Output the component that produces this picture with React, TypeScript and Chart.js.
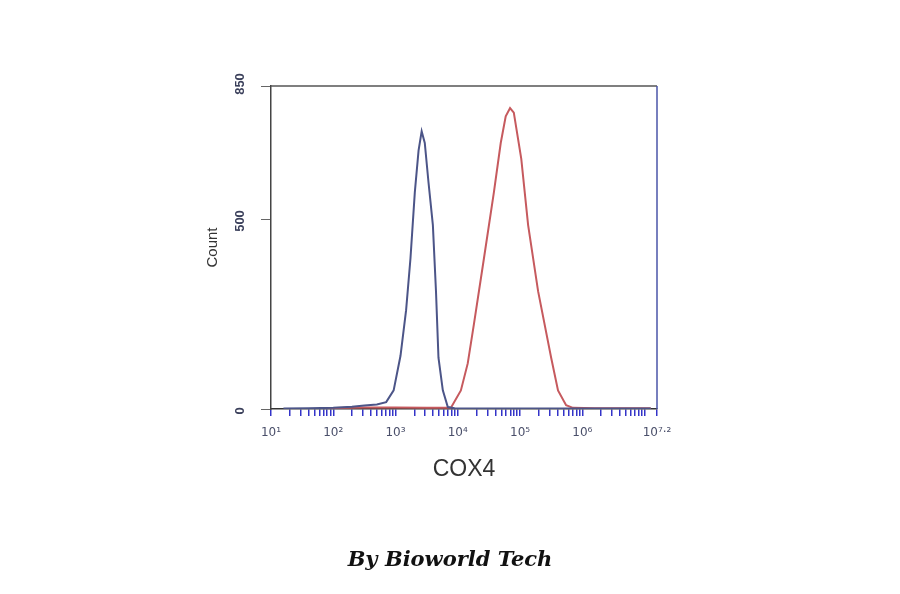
import React, { useEffect, useRef } from "react";
import { Chart, registerables } from "chart.js";

Chart.register(...registerables);

// log10 of fluorescence (COX4) and cell counts
const blueLogX = [1.2, 1.6, 2.0, 2.3, 2.5, 2.7, 2.85, 2.97, 3.08, 3.17, 3.24, 3.31, 3.37, 3.42, 3.47, 3.53, 3.6, 3.65, 3.69, 3.76, 3.84, 3.95, 4.5, 5.5, 6.5, 7.1];
const blueCount = [1, 2, 3, 6, 9, 12, 18, 49, 140, 260, 396, 570, 680, 731, 700, 596, 484, 310, 135, 49, 5, 2, 1, 1, 1, 1];
const redLogX = [1.8, 2.5, 3.0, 3.5, 3.89, 4.05, 4.16, 4.26, 4.42, 4.58, 4.69, 4.77, 4.84, 4.9, 5.02, 5.13, 5.29, 5.5, 5.61, 5.74, 5.85, 6.2, 6.8, 7.1];
const redCount = [2, 4, 4, 3, 3, 49, 120, 224, 396, 570, 700, 770, 792, 780, 658, 484, 310, 135, 49, 10, 3, 2, 2, 2];

const yTicks = [0, 500, 850];
const xMajor = [1, 2, 3, 4, 5, 6, 7.2];
const xLabels = ["10¹", "10²", "10³", "10⁴", "10⁵", "10⁶", "10⁷·²"];

export default function App() {
  const ref = useRef<HTMLCanvasElement | null>(null);
  useEffect(() => {
    if (!ref.current) return;
    const tickVals: number[] = [];
    for (let n = 1; n <= 7; n++) {
      for (let k = 1; k <= 9; k++) {
        const v = n + Math.log10(k);
        if (v <= 7.2 + 1e-9) tickVals.push(k === 1 ? n : v);
      }
    }
    tickVals.push(7.2);
    const frame = {
      id: "frame",
      afterDraw(chart: any) {
        const { ctx, chartArea: a, scales } = chart;
        ctx.save();
        ctx.lineWidth = 1.5;
        ctx.strokeStyle = "#555";
        ctx.beginPath();
        ctx.moveTo(a.left, a.top);
        ctx.lineTo(a.right, a.top);
        ctx.stroke();
        ctx.strokeStyle = "#4a55a8";
        ctx.beginPath();
        ctx.moveTo(a.right, a.top);
        ctx.lineTo(a.right, a.bottom);
        ctx.stroke();
        ctx.fillStyle = "#3a3f5a";
        ctx.font = "bold 13px 'Liberation Sans', Arial, sans-serif";
        ctx.textAlign = "center";
        ctx.textBaseline = "middle";
        for (const t of yTicks) {
          const y = scales.y.getPixelForValue(t);
          ctx.save();
          ctx.translate(a.left - 31, t === 850 ? y - 2 : y + 2);
          ctx.rotate(-Math.PI / 2);
          ctx.fillText(String(t), 0, 0);
          ctx.restore();
        }
        ctx.restore();
      },
    };
    const chart = new Chart(ref.current, {
      type: "line",
      data: {
        datasets: [
          {
            data: blueLogX.map((x, i) => ({ x, y: blueCount[i] })),
            borderColor: "#4c5588",
            borderWidth: 2,
            pointRadius: 0,
            tension: 0,
          },
          {
            data: redLogX.map((x, i) => ({ x, y: redCount[i] })),
            borderColor: "#c65a5e",
            borderWidth: 2,
            pointRadius: 0,
            tension: 0,
          },
        ],
      },
      plugins: [frame],
      options: {
        responsive: false,
        animation: false,
        layout: { padding: { left: 200, right: 243, top: 86, bottom: 107 } },
        plugins: { legend: { display: false }, tooltip: { enabled: false } },
        scales: {
          x: {
            type: "linear",
            min: 1,
            max: 7.2,
            afterBuildTicks: (s: any) => {
              s.ticks = tickVals.map((v) => ({ value: v }));
            },
            afterFit: (s: any) => {
              s.height = 78;
            },
            border: { color: "#333", width: 1.5 },
            grid: { drawOnChartArea: false, drawTicks: true, tickLength: 7, tickColor: "#3434c8", lineWidth: 1.5 },
            ticks: {
              autoSkip: false,
              maxRotation: 0,
              padding: 10,
              color: "#4a4f6a",
              font: { family: "'DejaVu Sans', sans-serif", size: 12 },
              callback: (v: any) => {
                const i = xMajor.findIndex((m) => Math.abs(m - Number(v)) < 1e-6);
                return i >= 0 ? xLabels[i] : "";
              },
            },
            title: {
              display: true,
              text: "COX4",
              color: "#333",
              font: { family: "'Liberation Sans', Arial, sans-serif", size: 23 },
            },
          },
          y: {
            min: 0,
            max: 850,
            afterBuildTicks: (s: any) => {
              s.ticks = yTicks.map((v) => ({ value: v }));
            },
            afterFit: (s: any) => {
              s.width = 71;
            },
            border: { color: "#444", width: 1.5 },
            grid: { drawOnChartArea: false, drawTicks: true, tickLength: 10, tickColor: "#666" },
            ticks: { display: false },
            title: {
              display: true,
              text: "Count",
              color: "#333",
              font: { family: "'Liberation Sans', Arial, sans-serif", size: 15 },
            },
          },
        },
      },
    });
    return () => chart.destroy();
  }, []);
  return (
    <div style={{ position: "fixed", left: 0, top: 0, width: 900, height: 594, background: "#fff" }}>
      <canvas ref={ref} width={900} height={594} style={{ position: "absolute", left: 0, top: 0 }} />
      <div
        style={{
          position: "absolute",
          left: 0,
          width: 900,
          top: 546,
          textAlign: "center",
          fontFamily: "'DejaVu Serif', serif",
          fontWeight: "bold",
          fontStyle: "italic",
          fontSize: 21,
          color: "#111",
        }}
      >
        By Bioworld Tech
      </div>
    </div>
  );
}
